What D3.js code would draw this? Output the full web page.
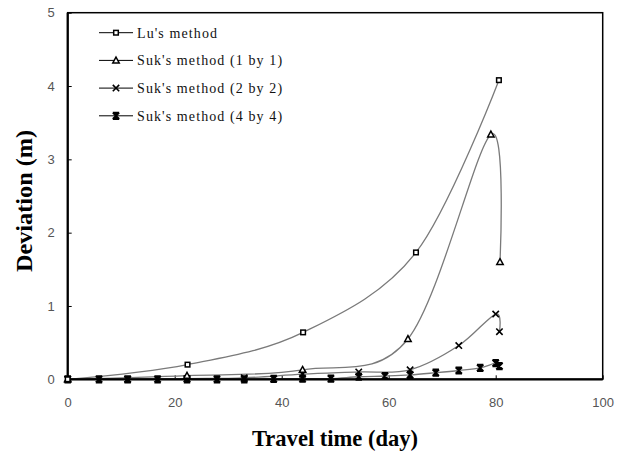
<!DOCTYPE html>
<html><head><meta charset="utf-8">
<script src="https://cdn.jsdelivr.net/npm/d3@7"></script>
<style>body{margin:0;background:#fff}</style>
</head><body>
<svg id="c" width="624" height="454"></svg>
<script>
const xTicks = [0, 20, 40, 60, 80, 100];
const yTicks = [0, 1, 2, 3, 4, 5];
const seriesNames = ["Lu's method", "Suk's method (1 by 1)", "Suk's method (2 by 2)", "Suk's method (4 by 4)"];
const luX = [0, 22.4, 44.0, 65.1, 80.6];
const luY = [0, 0.20, 0.64, 1.73, 4.08];
const suk1X = [0, 22.3, 43.9, 63.6, 79.1, 80.8];
const suk1Y = [0, 0.05, 0.13, 0.55, 3.34, 1.60];
const suk2X = [0, 11.2, 22.3, 33.0, 43.9, 54.4, 64.0, 73.1, 80.0, 80.7];
const suk2Y = [0, 0.0, 0.01, 0.02, 0.07, 0.10, 0.13, 0.46, 0.89, 0.65];
const suk4X = [0, 5.85, 11.2, 16.8, 22.3, 27.9, 33.0, 38.5, 43.9, 49.2, 54.4, 59.3, 64.0, 68.8, 73.1, 77.1, 80.0, 80.7];
const suk4Y = [0, 0, 0, 0, 0, 0, 0, 0.005, 0.01, 0.01, 0.035, 0.045, 0.06, 0.09, 0.12, 0.155, 0.22, 0.18];
const xTitle = "Travel time (day)";
const yTitle = "Deviation (m)";

const svg = d3.select("#c");
const L = 67.7, R = 602.7, T = 12.7, B = 379.3;
const x = d3.scaleLinear().domain([0, 100]).range([L, R]);
const y = d3.scaleLinear().domain([0, 5]).range([B, T]);

const series = [
  {name: seriesNames[0], xs: luX, ys: luY, marker: "square"},
  {name: seriesNames[1], xs: suk1X, ys: suk1Y, marker: "triangle"},
  {name: seriesNames[2], xs: suk2X, ys: suk2Y, marker: "cross"},
  {name: seriesNames[3], xs: suk4X, ys: suk4Y, marker: "star"}
].map(s => ({...s, pts: s.xs.map((v, i) => [v, s.ys[i]])}));

// axes
const gx = svg.append("g").attr("transform", `translate(0,${B})`)
  .call(d3.axisBottom(x).tickValues(xTicks).tickFormat(d3.format("d")).tickSizeInner(-4).tickSizeOuter(0).tickPadding(18.5));
const gy = svg.append("g").attr("transform", `translate(${L},0)`)
  .call(d3.axisLeft(y).tickValues(yTicks).tickFormat(d3.format("d")).tickSizeInner(-4).tickSizeOuter(0).tickPadding(13));
[gx, gy].forEach(g => {
  g.select(".domain").remove();
  g.selectAll("line").attr("stroke", "#000").attr("stroke-width", 1);
  g.selectAll("text").attr("font-family", "Liberation Sans, Arial, sans-serif")
    .attr("font-size", 13).attr("fill", "#555");
});

// lines
const line = d3.line().x(d => x(d[0])).y(d => y(d[1])).curve(d3.curveCardinal.tension(0));
series.forEach(s => {
  svg.append("path").attr("d", line(s.pts)).attr("fill", "none")
    .attr("stroke", "#7a7a7a").attr("stroke-width", 1.3);
});

// frame
svg.append("rect").attr("x", L).attr("y", T).attr("width", R - L).attr("height", B - T)
  .attr("fill", "none").attr("stroke", "#000").attr("stroke-width", 1.5);
svg.append("line").attr("x1", L).attr("x2", L).attr("y1", T).attr("y2", B).attr("stroke", "#000").attr("stroke-width", 2.2);
svg.append("line").attr("x1", L).attr("x2", R).attr("y1", B).attr("y2", B).attr("stroke", "#000").attr("stroke-width", 2.2);

function drawMarker(g, type, cx, cy) {
  if (type === "square") {
    g.append("rect").attr("x", cx - 2.3).attr("y", cy - 2.3).attr("width", 4.6).attr("height", 4.6)
      .attr("fill", "#fff").attr("stroke", "#000").attr("stroke-width", 1.5);
  } else if (type === "triangle") {
    g.append("path").attr("d", `M${cx},${cy - 3.3}L${cx + 3.2},${cy + 2.5}L${cx - 3.2},${cy + 2.5}Z`)
      .attr("fill", "#fff").attr("stroke", "#000").attr("stroke-width", 1.5);
  } else if (type === "cross") {
    g.append("path").attr("d", `M${cx - 3.2},${cy - 3.2}L${cx + 3.2},${cy + 3.2}M${cx + 3.2},${cy - 3.2}L${cx - 3.2},${cy + 3.2}`)
      .attr("stroke", "#000").attr("stroke-width", 1.6);
  } else {
    g.append("path").attr("d", `M${cx - 3.2},${cy - 3.2}L${cx + 3.2},${cy + 3.2}M${cx + 3.2},${cy - 3.2}L${cx - 3.2},${cy + 3.2}M${cx - 3.2},${cy - 3.2}L${cx + 3.2},${cy - 3.2}M${cx - 3.2},${cy + 3.2}L${cx + 3.2},${cy + 3.2}M${cx},${cy - 3.2}L${cx},${cy + 3.2}`)
      .attr("stroke", "#000").attr("stroke-width", 1.8);
  }
}

// markers (draw later series first so Lu's on top)
series.slice().reverse().forEach(s => {
  const g = svg.append("g");
  s.pts.forEach(p => drawMarker(g, s.marker, x(p[0]), y(p[1])));
});

// legend
const lg = svg.append("g");
series.forEach((s, i) => {
  const ly = 32.7 + i * 27.7;
  lg.append("line").attr("x1", 99).attr("x2", 133).attr("y1", ly).attr("y2", ly)
    .attr("stroke", "#000").attr("stroke-width", 1);
  drawMarker(lg, s.marker, 116, ly);
  lg.append("text").attr("x", 137).attr("y", ly + 5).text(s.name)
    .attr("font-family", "Liberation Serif, Times New Roman, serif").attr("font-size", 14)
    .attr("letter-spacing", 1.1).attr("fill", "#111");
});

// titles
svg.append("text").attr("x", 335).attr("y", 446).attr("text-anchor", "middle")
  .attr("font-family", "Liberation Serif, Times New Roman, serif").attr("font-weight", "bold")
  .attr("font-size", 24).attr("textLength", 166).attr("lengthAdjust", "spacingAndGlyphs").text(xTitle);
svg.append("text").attr("transform", "translate(31.5,201) rotate(-90)").attr("text-anchor", "middle")
  .attr("font-family", "Liberation Serif, Times New Roman, serif").attr("font-weight", "bold")
  .attr("font-size", 24).attr("textLength", 142).attr("lengthAdjust", "spacingAndGlyphs").text(yTitle);
</script>
</body></html>
